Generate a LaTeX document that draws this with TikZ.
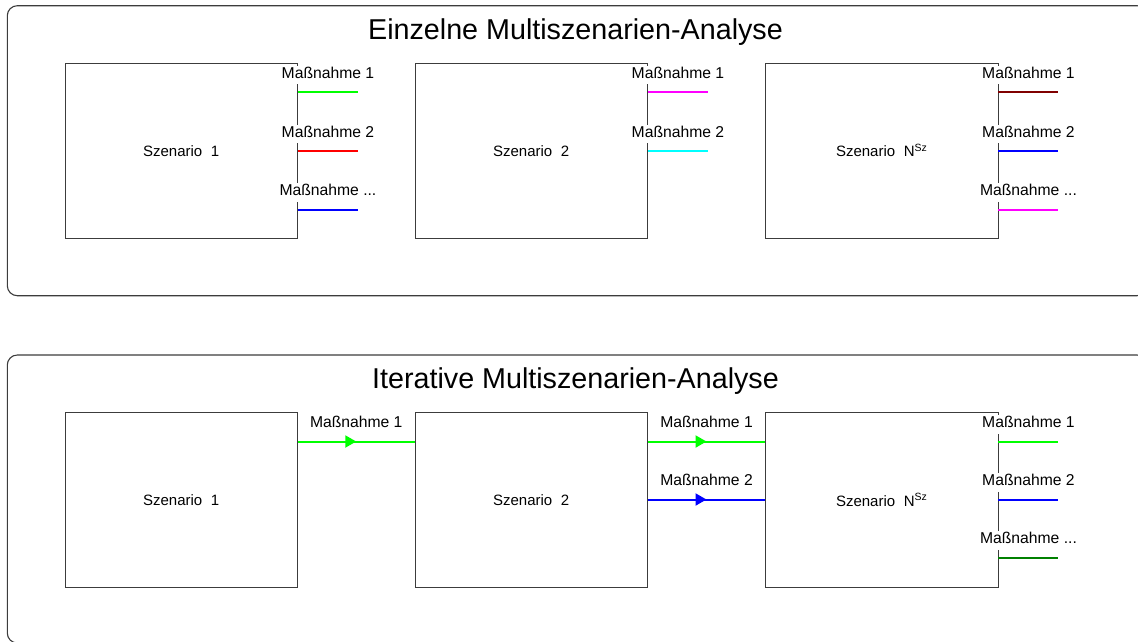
\documentclass[tikz,border=0pt]{standalone}
\usepackage{fontspec}
\setmainfont{Liberation Sans}
\usetikzlibrary{arrows.meta,decorations.markings,calc}
\definecolor{mgreen}{RGB}{0,255,0}
\definecolor{mred}{RGB}{255,0,0}
\definecolor{mblue}{RGB}{0,0,255}
\definecolor{mmagenta}{RGB}{255,0,255}
\definecolor{mcyan}{RGB}{0,255,255}
\definecolor{mdred}{RGB}{128,0,0}
\definecolor{mdgreen}{RGB}{0,128,0}
\definecolor{edge}{RGB}{60,60,60}
\newcommand{\mzdots}{...}
\begin{document}
\begin{tikzpicture}[x=1pt,y=-1pt,
  outer/.style={draw=edge,line width=1.1pt,rounded corners=10pt},
  scen/.style={draw=edge,line width=0.9pt,minimum width=232.5pt,minimum height=174.7pt,inner sep=0pt,font=\fontsize{15}{18}\selectfont},
  mlabel/.style={fill=white,inner xsep=2pt,inner ysep=1pt,text depth=5pt,font=\fontsize{15.7}{18}\selectfont,anchor=base},
  title/.style={font=\fontsize{28.7}{34}\selectfont,anchor=base},
  meas/.style={line width=2pt},
  flow/.style={line width=2pt,postaction={decorate},decoration={markings,mark=at position 0.5 with {\arrow{Triangle[length=11pt,width=12pt]}}}}
]
\useasboundingbox (0,0) rectangle (1138,641);
% outer frames
\draw[outer] (7.3,5.7) rectangle (1147,295.7);
\draw[outer] (7.3,355) rectangle (1147,643);
\node[title] (ttop) at (575.5,39) {Einzelne Multiszenarien-Analyse};
\node[title] (tbot) at (575.5,388.5) {Iterative Multiszenarien-Analyse};
% top scenarios
\node[scen] (t1) at (181.25,150.7) {Szenario\hspace{0.3em} 1};
\node[scen] (t2) at (531.25,150.7) {Szenario\hspace{0.3em} 2};
\node[scen] (t3) at (881.75,150.7) {Szenario\hspace{0.3em} N\textsuperscript{Sz}};
% bottom scenarios
\node[scen] (b1) at (181.25,499.9) {Szenario\hspace{0.3em} 1};
\node[scen] (b2) at (531.25,499.9) {Szenario\hspace{0.3em} 2};
\node[scen] (b3) at (881.75,499.9) {Szenario\hspace{0.3em} N\textsuperscript{Sz}};
% measure stubs
\foreach \b/\y/\c/\txt [count=\i] in {t1/92/mgreen/1, t1/151/mred/2, t1/209.5/mblue/\mzdots, t2/92/mmagenta/1, t2/151/mcyan/2, t3/92/mdred/1, t3/151/mblue/2, t3/209.5/mmagenta/\mzdots, b3/441.5/mgreen/1, b3/499.5/mblue/2, b3/557.5/mdgreen/\mzdots}{
  \coordinate (h\i) at (0,\y);
  \coordinate (s\i) at (\b.east |- h\i);
  \coordinate (e\i) at ($(s\i)+(60,0)$);
  \draw[meas,\c] (s\i) -- (e\i);
  \node[mlabel] (l\i) at ($(s\i)+(30,-14)$) {Maßnahme \txt};
}
% iterative flows
\coordinate (fy1) at (0,441.5);
\coordinate (fy2) at (0,499.5);
\coordinate (f1s) at (b1.east |- fy1);
\coordinate (f1e) at (b2.west |- fy1);
\coordinate (f2s) at (b2.east |- fy1);
\coordinate (f2e) at (b3.west |- fy1);
\coordinate (f3s) at (b2.east |- fy2);
\coordinate (f3e) at (b3.west |- fy2);
\draw[flow,mgreen] (f1s) -- (f1e);
\draw[flow,mgreen] (f2s) -- (f2e);
\draw[flow,mblue] (f3s) -- (f3e);
\node[mlabel] (fl1) at ($(f1s)!0.5!(f1e)+(0,-14)$) {Maßnahme 1};
\node[mlabel] (fl2) at ($(f2s)!0.5!(f2e)+(0,-14)$) {Maßnahme 1};
\node[mlabel] (fl3) at ($(f3s)!0.5!(f3e)+(0,-14)$) {Maßnahme 2};
\end{tikzpicture}
\end{document}
